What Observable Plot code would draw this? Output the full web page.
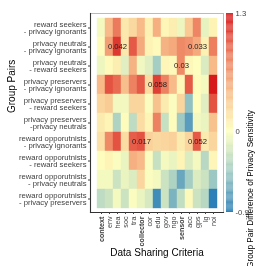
<!DOCTYPE html>
<html><head><meta charset="utf-8">
<script src="https://cdn.jsdelivr.net/npm/d3@7"></script>
<script src="https://cdn.jsdelivr.net/npm/@observablehq/plot@0.6"></script>
<style>
body{margin:0;background:#fff}
#wrap{position:relative;width:266px;height:266px;overflow:hidden;background:#fff}
#wrap svg{position:absolute;top:0;overflow:visible}
#wrap svg.mainchart{will-change:transform}
</style>
</head><body><div id="wrap"></div>
<script>
const criteria = ["context","env","hea","soc","tra","collector","cor","edu","gov","ngo","sensor","acc","gps","lg","noi"];
const boldCriteria = ["context","collector","sensor"];
const groupPairs = [
  "reward seekers\n- privacy ignorants",
  "privacy neutrals\n- privacy ignorants",
  "privacy neutrals\n- reward seekers",
  "privacy preservers\n- privacy ignorants",
  "privacy preservers\n- reward seekers",
  "privacy preservers\n-privacy neutrals",
  "reward opporutnists\n- privacy ignorants",
  "reward opporutnists\n- reward seekers",
  "reward opporutnists\n- privacy neutrals",
  "reward opporutnists\n- privacy preservers"
];
const seekersIgnorants     = [-0.05, 0.45, 0.85, 0.15, 0.25, 0.45, 0.10, 0.52, 0.06, 0.12, -0.08, 0.35, 0.78, -0.12, 0.08];
const neutralsIgnorants    = [0.02, 0.62, 1.15, 0.15, 1.00, 0.55, 0.08, 0.03, 0.50, 0.55, 0.75, 0.70, 0.55, 0.10, 0.82];
const neutralsSeekers      = [-0.08, 0.03, 0.12, -0.15, 0.50, -0.07, -0.15, -0.45, 0.06, 0.04, 0.75, 0.05, 0.00, -0.18, 0.45];
const preserversIgnorants  = [0.45, 1.03, 0.92, 0.42, 0.80, 1.00, 0.22, 1.12, 0.80, 0.45, 0.05, 1.00, 0.02, -0.05, 1.30];
const preserversSeekers    = [0.27, 0.34, -0.06, -0.06, 0.27, 0.27, -0.02, 0.40, 0.13, -0.02, 0.27, -0.52, 0.01, -0.15, 1.03];
const preserversNeutrals   = [0.13, 0.07, -0.40, 0.02, -0.32, 0.22, 0.07, 0.80, -0.28, 0.02, -0.47, -0.73, -0.06, -0.10, 0.40];
const opportunistsIgnorants= [0.20, 0.75, 1.03, 0.22, 0.98, 1.03, 0.30, 0.25, 0.27, 0.30, 0.13, 0.27, 1.00, 0.13, 0.27];
const opportunistsSeekers  = [0.01, 0.07, -0.02, -0.10, 0.52, 0.45, -0.02, -0.28, -0.05, -0.10, 0.07, -0.17, -0.05, -0.35, 0.06];
const opportunistsNeutrals = [-0.05, -0.05, -0.25, -0.10, -0.17, 0.27, -0.02, -0.05, -0.25, -0.40, -0.67, -0.45, -0.17, -0.25, -0.48];
const opportunistsPreservers=[-0.32, -0.25, -0.05, -0.25, -0.02, -0.10, -0.20, -0.82, -0.25, -0.60, -0.30, 0.04, -0.25, -0.35, -0.90];
const rowValues = [seekersIgnorants, neutralsIgnorants, neutralsSeekers, preserversIgnorants, preserversSeekers,
  preserversNeutrals, opportunistsIgnorants, opportunistsSeekers, opportunistsNeutrals, opportunistsPreservers];

const noteRows = [1, 1, 2, 3, 6, 6];
const noteCriteria = ["hea", "gps", "sensor", "edu", "collector", "gps"];
const noteTexts = ["0.042", "0.033", "0.03", "0.058", "0.017", "0.052"];

const legendTicks = [-0.9, 0, 1.3];
const legendTitle = "Group Pair Difference of Privacy Sensitivity";

const colorScale = {
  type: "linear",
  domain: [-0.9, -0.45, 0, 0.4, 0.85, 1.3],
  range: ["#2c7fb8", "#a4cdc4", "#feffbf", "#f8c28e", "#ec7a5c", "#d7191c"],
  interpolate: "rgb",
  clamp: true
};

const cells = [];
groupPairs.forEach((g, i) => criteria.forEach((c, j) => cells.push({pair: g, crit: c, value: rowValues[i][j]})));
const notes = noteTexts.map((t, k) => ({pair: groupPairs[noteRows[k]], crit: noteCriteria[k], text: t}));

const font = "'Liberation Sans', Arial, Helvetica, sans-serif";

const main = Plot.plot({
  width: 266, height: 266,
  marginLeft: 90, marginRight: 43, marginTop: 13, marginBottom: 54,
  style: {fontFamily: font, background: "transparent", color: "#404040"},
  x: {type: "band", domain: criteria, padding: 0, label: null},
  y: {type: "band", domain: groupPairs, padding: 0, label: null},
  color: colorScale,
  marks: [
    Plot.cell(cells, {x: "crit", y: "pair", fill: "value", inset: 0, stroke: "value", strokeWidth: 0.4}),
    Plot.text(notes, {x: "crit", y: "pair", text: "text", fontSize: 7.7, fill: "#222"}),
    Plot.frame({stroke: "#aaa", strokeWidth: 0.8}),
    Plot.frame({anchor: "left", stroke: "#333", strokeWidth: 1.1}),
    Plot.frame({anchor: "bottom", stroke: "#333", strokeWidth: 1.1}),
    Plot.axisY({anchor: "left", fontSize: 7.7, tickSize: 2, tickPadding: 2, lineHeight: 0.98, label: null}),
    Plot.axisX(criteria.filter(c => !boldCriteria.includes(c)), {anchor: "bottom", tickRotate: -90, fontSize: 7.2, tickSize: 2, tickPadding: 2, label: null}),
    Plot.axisX(boldCriteria, {anchor: "bottom", tickRotate: -90, fontSize: 7.2, fontWeight: "bold", tickSize: 2, tickPadding: 2, label: null}),
    Plot.text(["Group Pairs"], {frameAnchor: "left", dx: -79, rotate: -90, fontSize: 10, fill: "#000"}),
    Plot.text(["Data Sharing Criteria"], {frameAnchor: "bottom", dy: 43, fontSize: 10, fill: "#000"})
  ]
});
main.classList.add("mainchart");

const stops = d3.range(-0.9, 1.3, 0.01);
const bar = Plot.plot({
  width: 46, height: 266,
  marginLeft: 6, marginRight: 33, marginTop: 13, marginBottom: 54,
  style: {fontFamily: font, background: "transparent", color: "#404040"},
  x: {domain: [0, 1], axis: null},
  y: {domain: [-0.9, 1.3], label: null, axis: null},
  color: colorScale,
  marks: [
    Plot.rect(stops, {x1: 0, x2: 1, y1: d => d, y2: d => Math.min(1.3, d + 0.011), fill: d => d + 0.005}),
    Plot.axisY(legendTicks, {anchor: "right", tickSize: 0, tickPadding: 2, fontSize: 7.7, tickFormat: d => String(d), label: null}),
    Plot.text([legendTitle], {frameAnchor: "right", dx: 17, dy: -3, rotate: -90, fontSize: 8.2, fill: "#000"})
  ]
});
bar.querySelectorAll("text").forEach(t => {
  if (t.textContent === legendTitle) {
    t.setAttribute("textLength", 158);
    t.setAttribute("lengthAdjust", "spacingAndGlyphs");
  }
});
const wrap = document.getElementById("wrap");
main.style.left = "0px";
bar.style.left = "220px";
wrap.appendChild(main);
wrap.appendChild(bar);
</script>
</body></html>
